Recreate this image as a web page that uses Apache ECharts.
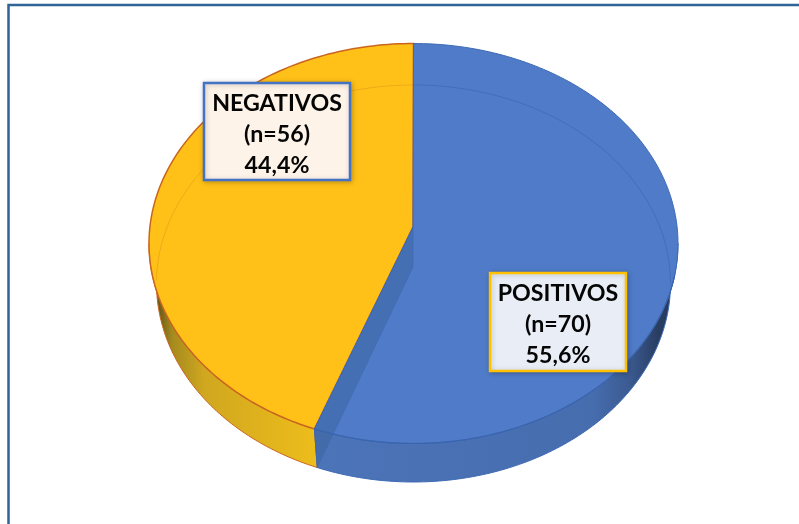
<!DOCTYPE html>
<html><head><meta charset="utf-8">
<style>html,body{margin:0;padding:0;background:#fff}#c{width:799px;height:524px}</style>
<script src="https://cdn.jsdelivr.net/npm/echarts@6/dist/echarts.min.js"></script>
</head><body><div id="c"></div>
<script>
// Data
const sliceNames = ['POSITIVOS', 'NEGATIVOS'];
const sliceCounts = [70, 56];
const sliceShares = ['55,6%', '44,4%'];

// Drawing style and layout of the tilted disc: the lower face is farther away, so slightly smaller
const topFace = {cx: 413.5, cy: 243.5, rx: 264.5, ry: 200};
const lowFace = {cx: 413.5, cy: 283.5, rx: 257, ry: 198.5};
const apexY = {top: 227, low: 267};
const warp = 3.1;
const looks = [
  {top: '#4F7BC8', edge: '#3E6BB5', inner: 'rgba(45,85,150,0.35)', cut: 'rgba(58,95,150,0.42)',
   wall: [[0, '#4C74B8'], [0.78, '#466DAE'], [0.88, '#3B5B92'], [0.96, '#2A3E63'], [1, '#263A5C']], wallX: [313, 672],
   box: [490, 273, 136, 98], boxFill: '#E9EEF6', boxEdge: '#FFC000', z: 2},
  {top: '#FFC117', edge: '#C9651F', inner: 'rgba(205,130,30,0.35)', cut: null,
   wall: [[0, '#5E5216'], [0.1, '#A58A1E'], [0.3, '#D0A71F'], [1, '#EDBD1B']], wallX: [156, 316],
   box: [204, 83, 146, 97], boxFill: '#FDF3E8', boxEdge: '#4472C4', z: 1}
];
const rad = d => d * Math.PI / 180;
// angle measured clockwise from 12 o'clock; warp mimics the perspective of the tilt
const rim = (deg, f) => {
  const t = rad(deg + warp * Math.sin(rad(2 * deg)));
  return [f.cx + f.rx * Math.sin(t), f.cy - f.ry * Math.cos(t)];
};
const arc = (a, b, f) => {
  const out = [], n = Math.max(2, Math.ceil(Math.abs(b - a)));
  for (let i = 0; i <= n; i++) out.push(rim(a + (b - a) * i / n, f));
  return out;
};
const total = sliceCounts.reduce((s, v) => s + v, 0);

function renderSlice(params, api) {
  const i = params.dataIndex, look = looks[i], value = api.value(0);
  let before = 0;
  for (let k = 0; k < i; k++) before += sliceCounts[k];
  const a0 = before / total * 360, a1 = (before + value) / total * 360;
  const apexTop = [topFace.cx - 0.5, apexY.top];
  const apexLow = [topFace.cx - 0.5, apexY.low];
  const z = look.z, kids = [];

  // visible outer wall: the front half of the rim
  const w0 = Math.max(a0, 90), w1 = Math.min(a1, 270);
  if (w1 > w0) {
    kids.push({type: 'polygon', z2: z,
      shape: {points: arc(w0, w1, topFace).concat(arc(w1, w0, lowFace))},
      style: {fill: new echarts.graphic.LinearGradient(look.wallX[0], 0, look.wallX[1], 0,
        look.wall.map(s => ({offset: s[0], color: s[1]})), true), stroke: look.edge, lineWidth: 1}});
  }
  // top face
  kids.push({type: 'polygon', z2: z + 0.1,
    shape: {points: [apexTop].concat(arc(a0, a1, topFace))},
    style: {fill: look.top, stroke: look.edge, lineWidth: i === 0 ? 1 : 1.5}});
  // far rim of the lower face, seen through the translucent top
  kids.push({type: 'polyline', z2: z + 0.2,
    shape: {points: arc(a0, a1, lowFace).filter(p => p[1] <= lowFace.cy)},
    style: {fill: null, stroke: look.inner, lineWidth: 1}});
  // cut face seen through the blue slice
  if (look.cut) {
    kids.push({type: 'polygon', z2: z + 0.3,
      shape: {points: [apexTop, apexLow, rim(a1, lowFace), rim(a1, topFace)]},
      style: {fill: look.cut, stroke: 'rgba(60,105,180,0.55)', lineWidth: 1}});
    kids.push({type: 'polyline', z2: z + 0.4,
      shape: {points: arc(a0, a1, topFace).filter(p => p[1] > topFace.cy + 30)},
      style: {fill: null, stroke: '#3A65AE', lineWidth: 1.2}});
  }
  // label box
  const b = look.box;
  kids.push({type: 'rect', z2: 10, shape: {x: b[0], y: b[1], width: b[2], height: b[3]},
    style: {fill: look.boxFill, stroke: look.boxEdge, lineWidth: 2.5,
      shadowBlur: 5, shadowColor: 'rgba(0,0,0,0.22)', shadowOffsetX: 1, shadowOffsetY: 1}});
  kids.push({type: 'text', z2: 11,
    style: {text: sliceNames[i] + '\n(n=' + value + ')\n' + sliceShares[i],
      x: b[0] + b[2] / 2, y: b[1] + b[3] / 2 + 3, align: 'center', verticalAlign: 'middle',
      fontFamily: 'Lato', fontWeight: 'bold', fontSize: 23.2, lineHeight: 31, fill: '#050505'}});
  return {type: 'group', children: kids};
}

const chart = echarts.init(document.getElementById('c'), null, {renderer: 'canvas'});
chart.setOption({
  animation: false,
  backgroundColor: '#fff',
  graphic: [{type: 'rect', z: 0, shape: {x: 8.5, y: 5, width: 830, height: 560},
    style: {fill: '#fff', stroke: '#2F6496', lineWidth: 2.5}}],
  series: [{type: 'custom', coordinateSystem: 'none', z: 5, silent: true,
    renderItem: renderSlice,
    data: sliceCounts.map((v, i) => ({name: sliceNames[i], value: [v]}))}]
});
</script></body></html>
